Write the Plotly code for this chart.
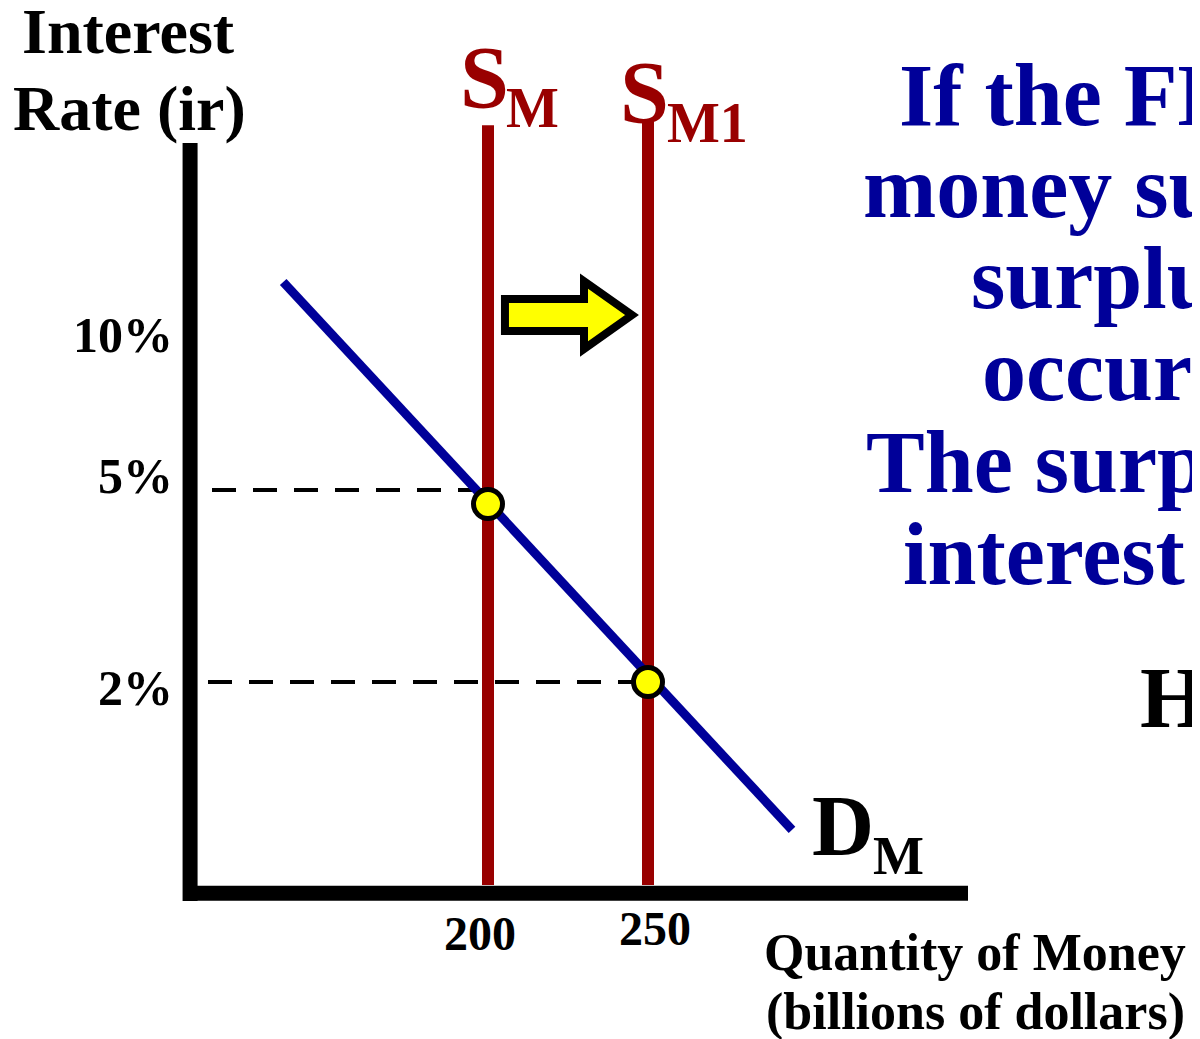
import plotly.graph_objects as go

W, H = 1200, 1039
OFF = 8  # page body margin: the figure is drawn 8 px right and 8 px down

# ---------------- data ----------------
supply_q = [200, 250]            # money supply S_M, S_M1 (billions)
supply_main = ["S", "S"]
supply_sub = ["M", "M1"]
supply_top = [10.70, 10.75]
supply_bottom = -1.17

demand_q = [136, 295]            # D_M end points
demand_ir = [8.25, -0.31]

eq_q = [200, 250]                # equilibrium points
eq_ir = [4.78, 2.0]

guide_ir = [5, 2]                # dashed guide lines
guide_q_start = [113.75, 112.5]
guide_q_end = [200, 250]

x_tick_labels = ["200", "250"]
y_tick_labels = ["10%", "5%", "2%"]

shift_q_from, shift_q_to, shift_ir = 205.3, 245.0, 7.734   # yellow arrow

axis_q = [106.9, 105.0, 350.0]  # vertical axis x, horizontal axis start/end
axis_ir = [10.42, -1.30]         # vertical axis top, horizontal axis level

blue_lines = ["If the FED increases the", "money supply, a", "surplus will",
              "occur at 5%.", "The surplus lowers the", "interest rate."]
black_line = "How much will AD change?"

# ---------------- scale helpers ----------------
PX_PER_Q = 3.2
PX_PER_IR = 64.0
X0 = 200 - (488 - OFF) / PX_PER_Q
X1 = X0 + W / PX_PER_Q
Y1 = 5 + (490 - OFF) / PX_PER_IR
Y0 = Y1 - H / PX_PER_IR

RED = "#990000"
BLUE = "#000099"
FONT = "Liberation Serif"


def px(x):
    return (x - OFF) / W


def py(y):
    return 1 - (y - OFF) / H


fig = go.Figure()

# dashed guides
for ir, q0, q1 in zip(guide_ir, guide_q_start, guide_q_end):
    fig.add_trace(go.Scatter(x=[q0, q1], y=[ir, ir], mode="lines",
                             line=dict(color="black", width=4, dash="24px,17px"),
                             hoverinfo="skip", showlegend=False))

# supply lines
for q, top in zip(supply_q, supply_top):
    fig.add_trace(go.Scatter(x=[q, q], y=[supply_bottom, top], mode="lines",
                             line=dict(color=RED, width=12),
                             hoverinfo="skip", showlegend=False))

# demand line
fig.add_trace(go.Scatter(x=demand_q, y=demand_ir, mode="lines",
                         line=dict(color=BLUE, width=9),
                         hoverinfo="skip", showlegend=False))

# equilibrium points
fig.add_trace(go.Scatter(x=eq_q, y=eq_ir, mode="markers",
                         marker=dict(size=29, color="#FFFF00",
                                     line=dict(color="black", width=5)),
                         hoverinfo="skip", showlegend=False))

shapes = []
# axes
shapes.append(dict(type="line", xref="x", yref="y", x0=axis_q[0], x1=axis_q[0],
                   y0=axis_ir[0], y1=axis_ir[1] - 0.12,
                   line=dict(color="black", width=15)))
shapes.append(dict(type="line", xref="x", yref="y", x0=axis_q[1], x1=axis_q[2],
                   y0=axis_ir[1], y1=axis_ir[1],
                   line=dict(color="black", width=15)))

# yellow block arrow (shift of supply)
shaft_h = 0.25
head_h = 0.53
head_len = 15.0
hb = shift_q_to - head_len
pts = [(shift_q_from, shift_ir + shaft_h), (hb, shift_ir + shaft_h),
       (hb, shift_ir + head_h), (shift_q_to, shift_ir),
       (hb, shift_ir - head_h), (hb, shift_ir - shaft_h),
       (shift_q_from, shift_ir - shaft_h)]
path = "M " + " L ".join(f"{a},{b}" for a, b in pts) + " Z"
shapes.append(dict(type="path", xref="x", yref="y", path=path,
                   fillcolor="#FFFF00", line=dict(color="black", width=8)))

annotations = []


def txt(text, x, baseline, size, color="black", anchor="left"):
    # place so that the text baseline sits at the given pixel row
    yc = baseline - 0.3375 * size
    annotations.append(dict(text=text, x=px(x), y=py(yc), xref="paper", yref="paper",
                            xanchor=anchor, yanchor="middle", showarrow=False,
                            borderpad=0, borderwidth=0,
                            font=dict(family=FONT, size=size, color=color, weight="bold")))


# y-axis title
txt("Interest", 128, 53, 64, anchor="center")
txt("Rate (ir)", 129, 130, 64, anchor="center")

# supply labels
txt(supply_main[0], 460, 107, 88, RED)
txt(supply_sub[0], 506, 127, 56, RED)
txt(supply_main[1], 620, 122, 88, RED)
txt(supply_sub[1], 667, 142, 56, RED)

# demand label
txt("D", 812, 855, 86)
txt("M", 873, 874, 54)

# tick labels
for lab, cx, base in zip(x_tick_labels, [480, 655], [950, 945]):
    txt(lab, cx, base, 48, anchor="center")
for lab, base in zip(y_tick_labels, [352, 493, 705]):
    txt(lab, 173, base, 50, anchor="right")

# x-axis title
txt("Quantity of Money", 764, 970, 52)
txt("(billions of dollars)", 766, 1030, 52)

# explanatory text (cut off at right edge)
for line, lx, base in zip(blue_lines, [899, 863, 971, 982, 866, 903],
                          [125, 217, 308, 400, 492, 584]):
    txt(line, lx, base, 88, BLUE)
txt(black_line, 1140, 727, 86)

fig.update_layout(
    width=W, height=H,
    margin=dict(l=0, r=0, t=0, b=0),
    paper_bgcolor="white", plot_bgcolor="white",
    xaxis=dict(range=[X0, X1], visible=False, fixedrange=True),
    yaxis=dict(range=[Y0, Y1], visible=False, fixedrange=True),
    shapes=shapes, annotations=annotations,
)

fig.write_html("out.html")
